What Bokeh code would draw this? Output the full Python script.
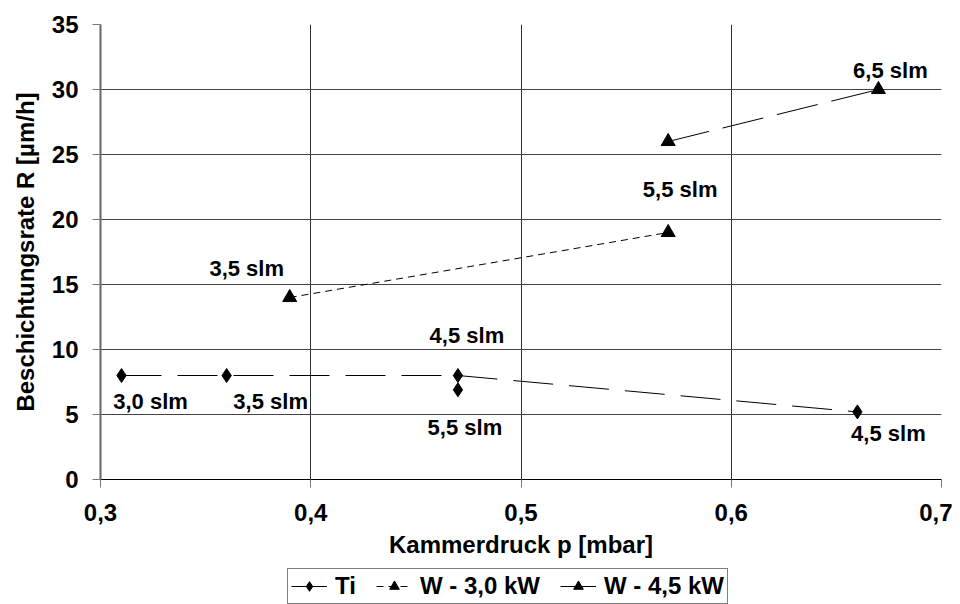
from bokeh.plotting import figure
from bokeh.layouts import column
from bokeh.models import (ColumnDataSource, Range1d, FixedTicker, CustomJSTickFormatter,
                          Legend, LegendItem)
from bokeh.core.properties import value
from bokeh.embed import file_html
from bokeh.resources import INLINE

# ---------------- data ----------------
ti_p = [0.31, 0.36, 0.47, 0.66, 0.47]
ti_R = [8.0, 8.0, 8.0, 5.2, 6.9]
ti_flow = ["3,0 slm", "3,5 slm", "4,5 slm", "4,5 slm", "5,5 slm"]
ti_connected = 4  # first four points joined by the line

w30_p = [0.39, 0.57]
w30_R = [14.0, 19.0]
w30_flow = ["3,5 slm", "5,5 slm"]

w45_p = [0.57, 0.67]
w45_R = [26.0, 30.0]
w45_flow = ["", "6,5 slm"]

series_names = ["Ti", "W - 3,0 kW", "W - 4,5 kW"]
x_ticks = [0.3, 0.4, 0.5, 0.6, 0.7]
y_ticks = [0, 5, 10, 15, 20, 25, 30, 35]

# label offsets in screen pixels (dx right, dy down)
ti_dx = [29, 44, 9, 31, 7]
ti_dy = [26, 26, -40, 22, 38]
w30_dx = [-43, 12]
w30_dy = [-29, -43]
w45_dx = [0, 12]
w45_dy = [0, -19]

FONT = "Liberation Sans"

STYLES = [
    dict(marker="diamond", dash="40 16"),
    dict(marker="triangle", dash="7 5"),
    dict(marker="triangle", dash="42 14"),
]

p = figure(frame_width=841, frame_height=455, output_backend="svg", toolbar_location=None,
           x_range=Range1d(0.3, 0.7), y_range=Range1d(0, 35),
           min_border_left=100, min_border_right=11, min_border_top=24, min_border_bottom=89,
           background_fill_color="white", border_fill_color="white")
p.outline_line_color = None

for ax in (p.xaxis[0], p.yaxis[0]):
    ax.major_label_text_font = FONT
    ax.major_label_text_font_style = "bold"
    ax.major_label_text_font_size = "24px"
    ax.major_label_text_color = "black"
    ax.axis_label_text_font = FONT
    ax.axis_label_text_font_style = "bold"
    ax.axis_label_text_font_size = "24px"
    ax.axis_label_text_color = "black"
    ax.major_tick_out = 8
    ax.major_tick_in = 0
    ax.minor_tick_out = 0
    ax.minor_tick_in = 0
    ax.major_tick_line_color = "#777777"

p.xaxis.ticker = FixedTicker(ticks=x_ticks)
p.yaxis.ticker = FixedTicker(ticks=y_ticks)
p.xaxis.formatter = CustomJSTickFormatter(code="return tick.toFixed(1).replace('.', ',');")
p.yaxis.formatter = CustomJSTickFormatter(code="return tick.toFixed(0);")
p.xaxis.axis_label = "Kammerdruck p [mbar]"
p.yaxis.axis_label = "Beschichtungsrate R [µm/h]"
p.xaxis.axis_line_color = "black"
p.xaxis.axis_line_width = 1
p.yaxis.axis_line_color = "#666666"
p.yaxis.axis_line_width = 2
p.xaxis.major_label_standoff = 16
p.xaxis.axis_label_standoff = 7
p.yaxis.major_label_standoff = 14
p.yaxis.axis_label_standoff = 10

p.xgrid.ticker = FixedTicker(ticks=x_ticks)
p.ygrid.ticker = FixedTicker(ticks=y_ticks)
p.xgrid.grid_line_color = "#333333"
p.ygrid.grid_line_color = "#444444"

ti_src = ColumnDataSource(dict(x=ti_p, y=ti_R, t=ti_flow, dx=ti_dx, dy=ti_dy))
ti_line_src = ColumnDataSource(dict(x=ti_p[:ti_connected], y=ti_R[:ti_connected]))
w30_src = ColumnDataSource(dict(x=w30_p, y=w30_R, t=w30_flow, dx=w30_dx, dy=w30_dy))
w45_src = ColumnDataSource(dict(x=w45_p, y=w45_R, t=w45_flow, dx=w45_dx, dy=w45_dy))

line_srcs = [ti_line_src, w30_src, w45_src]
pt_srcs = [ti_src, w30_src, w45_src]
for st, lsrc, psrc in zip(STYLES, line_srcs, pt_srcs):
    p.line("x", "y", source=lsrc, line_color="black", line_width=1, line_dash=st["dash"])
    p.scatter("x", "y", source=psrc, marker=st["marker"], size=14, color="black")
    p.text("x", "y", text="t", source=psrc, x_offset="dx", y_offset="dy",
           text_font=value(FONT), text_font_style="bold", text_font_size="22px",
           text_align="center", text_baseline="middle", text_color="black")

# ---------------- legend strip under the chart ----------------
# the strip's ranges lie outside the data, so its renderers only supply legend samples
lg = figure(frame_width=841, frame_height=36, output_backend="svg", toolbar_location=None,
            x_range=Range1d(-2, -1), y_range=Range1d(-2, -1),
            x_axis_location=None, y_axis_location=None,
            min_border_left=100, min_border_right=11, min_border_top=0, min_border_bottom=0,
            background_fill_color="white", border_fill_color="white")
lg.outline_line_color = None
for g in lg.grid:
    g.visible = False

items = []
for name, st, lsrc, psrc in zip(series_names, STYLES, line_srcs, pt_srcs):
    r_line = lg.line("x", "y", source=lsrc, line_color="black", line_width=1, line_dash=st["dash"])
    r_pt = lg.scatter("x", "y", source=psrc, marker=st["marker"], size=14, color="black")
    items.append(LegendItem(label=name, renderers=[r_line, r_pt]))

legend = Legend(items=items, orientation="horizontal", location=(187, 0))
legend.label_text_font = FONT
legend.label_text_font_style = "bold"
legend.label_text_font_size = "24px"
legend.label_text_color = "black"
legend.glyph_width = 36
legend.glyph_height = 24
legend.label_standoff = 8
legend.spacing = 20
legend.padding = 3
legend.margin = 0
legend.border_line_color = "black"
legend.border_line_width = 1
legend.background_fill_color = "white"
lg.add_layout(legend)

layout = column(p, lg, spacing=0)

open("out.html", "w").write(file_html(layout, INLINE))
